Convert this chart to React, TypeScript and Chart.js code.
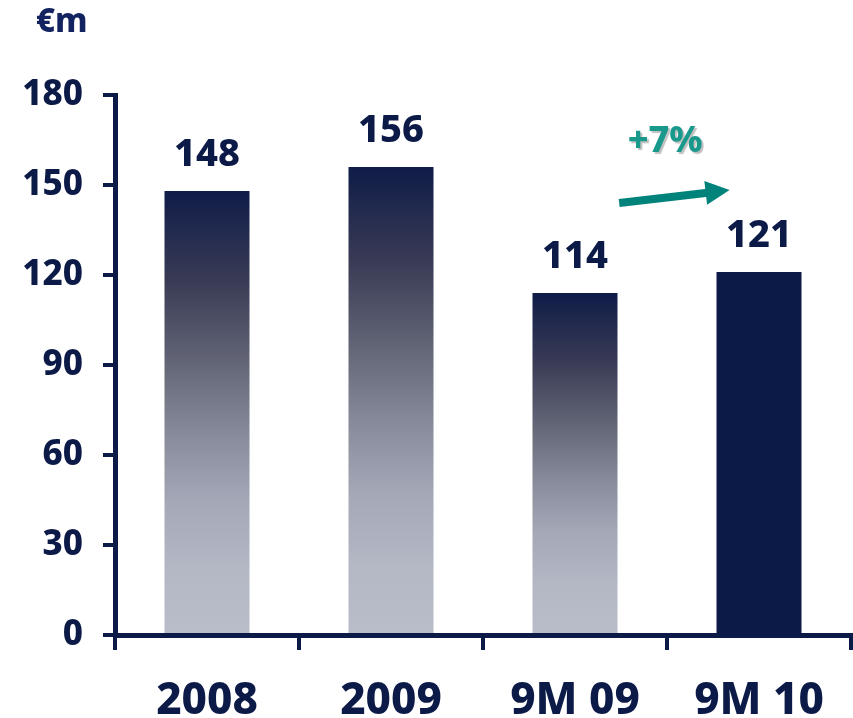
import React, { useEffect, useRef } from "react";
import { Chart, registerables } from "chart.js";

Chart.register(...registerables);

const categories = ["2008", "2009", "9M 09", "9M 10"];
const values = [148, 156, 114, 121];
const gradientBars = [true, true, true, false];
const yMin = 0;
const yMax = 180;
const yStep = 30;
const unitLabel = "€m";
const growthLabel = "+7%";
// annotation anchors in data space (category index, value)
const growthLabelAt = [2.49, 161];
const arrowFrom = [2.24, 144];
const arrowTo = [2.84, 148.3];

const NAVY = "#0c1a47";
const UNIT_COLOR = "#13235f";
const TEAL_TEXT = "#19998c";
const TEAL_ARROW = "#00837a";
const FONT = "'Noto Sans', 'DejaVu Sans', sans-serif";
const WEIGHT = "800";

const gradientStops: [number, string][] = [
  [0, "#0f1c48"],
  [0.2, "#393b55"],
  [0.4, "#666979"],
  [0.55, "#878b9c"],
  [0.7, "#a4a8b7"],
  [0.85, "#b4b8c5"],
  [1, "#b9bdc9"],
];

const annotationPlugin = {
  id: "annotations",
  afterDatasetsDraw(chart: any) {
    const { ctx, scales } = chart;
    const x = scales.x;
    const y = scales.y;
    ctx.save();

    // value labels
    ctx.fillStyle = NAVY;
    ctx.font = `${WEIGHT} 38px ${FONT}`;
    ctx.textAlign = "center";
    ctx.textBaseline = "alphabetic";
    values.forEach((v, i) => {
      ctx.fillText(String(v), x.getPixelForValue(i), y.getPixelForValue(v) - 25);
    });

    // unit label
    ctx.fillStyle = UNIT_COLOR;
    ctx.font = `${WEIGHT} 33px ${FONT}`;
    ctx.textAlign = "left";
    ctx.fillText(unitLabel, 36, 32);

    // growth label with shadow
    ctx.font = `${WEIGHT} 36px ${FONT}`;
    ctx.textAlign = "center";
    ctx.shadowColor = "rgba(0,0,0,0.25)";
    ctx.shadowOffsetX = 2;
    ctx.shadowOffsetY = 2;
    ctx.shadowBlur = 1;
    ctx.fillStyle = TEAL_TEXT;
    ctx.fillText(growthLabel, x.getPixelForValue(growthLabelAt[0]), y.getPixelForValue(growthLabelAt[1]));
    ctx.shadowColor = "transparent";

    // arrow
    const x0 = x.getPixelForValue(arrowFrom[0]);
    const y0 = y.getPixelForValue(arrowFrom[1]);
    const x1 = x.getPixelForValue(arrowTo[0]);
    const y1 = y.getPixelForValue(arrowTo[1]);
    const ang = Math.atan2(y1 - y0, x1 - x0);
    const headLen = 24;
    const headHalf = 12;
    const bx = x1 - headLen * Math.cos(ang);
    const by = y1 - headLen * Math.sin(ang);
    ctx.strokeStyle = TEAL_ARROW;
    ctx.lineWidth = 8;
    ctx.beginPath();
    ctx.moveTo(x0, y0);
    ctx.lineTo(bx + 2 * Math.cos(ang), by + 2 * Math.sin(ang));
    ctx.stroke();
    ctx.fillStyle = TEAL_ARROW;
    ctx.beginPath();
    ctx.moveTo(x1, y1);
    ctx.lineTo(bx + headHalf * Math.sin(ang), by - headHalf * Math.cos(ang));
    ctx.lineTo(bx - headHalf * Math.sin(ang), by + headHalf * Math.cos(ang));
    ctx.closePath();
    ctx.fill();

    ctx.restore();
  },
};

export default function App() {
  const canvasRef = useRef<HTMLCanvasElement | null>(null);

  useEffect(() => {
    if (!canvasRef.current) return;
    const chart = new Chart(canvasRef.current, {
      type: "bar",
      data: {
        labels: categories,
        datasets: [
          {
            data: values,
            backgroundColor: (c: any) => {
              const i = c.dataIndex;
              if (!gradientBars[i]) return NAVY;
              const ch = c.chart;
              const ys = ch.scales?.y;
              if (!ch.chartArea || !ys) return NAVY;
              const top = ys.getPixelForValue(values[i]);
              const bottom = ys.getPixelForValue(0);
              const g = ch.ctx.createLinearGradient(0, top, 0, bottom);
              gradientStops.forEach(([o, col]) => g.addColorStop(o, col));
              return g;
            },
            borderWidth: 0,
            barPercentage: 0.462,
            categoryPercentage: 1,
          },
        ],
      },
      options: {
        animation: false,
        responsive: true,
        maintainAspectRatio: false,
        layout: { padding: { top: 95, right: 2, left: 0, bottom: 0 } },
        plugins: {
          legend: { display: false },
          tooltip: { enabled: false },
          title: { display: false },
        },
        scales: {
          x: {
            offset: true,
            grid: {
              offset: true,
              drawOnChartArea: false,
              drawTicks: true,
              tickLength: 15,
              lineWidth: 4,
              color: NAVY,
            },
            border: { display: true, color: NAVY, width: 5 },
            ticks: {
              color: NAVY,
              font: { family: FONT, size: 44, weight: WEIGHT },
              padding: 25,
              maxRotation: 0,
              autoSkip: false,
            },
            afterFit: (s: any) => {
              s.height = 83;
            },
          },
          y: {
            min: yMin,
            max: yMax,
            grid: {
              drawOnChartArea: false,
              drawTicks: true,
              tickLength: 12,
              lineWidth: 4,
              color: NAVY,
            },
            border: { display: true, color: NAVY, width: 5 },
            ticks: {
              stepSize: yStep,
              color: NAVY,
              font: { family: FONT, size: 35, weight: WEIGHT },
              padding: 20,
            },
            afterFit: (s: any) => {
              s.width = 115;
            },
          },
        },
      },
      plugins: [annotationPlugin],
    } as any);
    return () => chart.destroy();
  }, []);

  return (
    <div style={{ position: "absolute", left: 0, top: 0, width: 853, height: 718, background: "#fff" }}>
      <canvas ref={canvasRef} />
    </div>
  );
}
